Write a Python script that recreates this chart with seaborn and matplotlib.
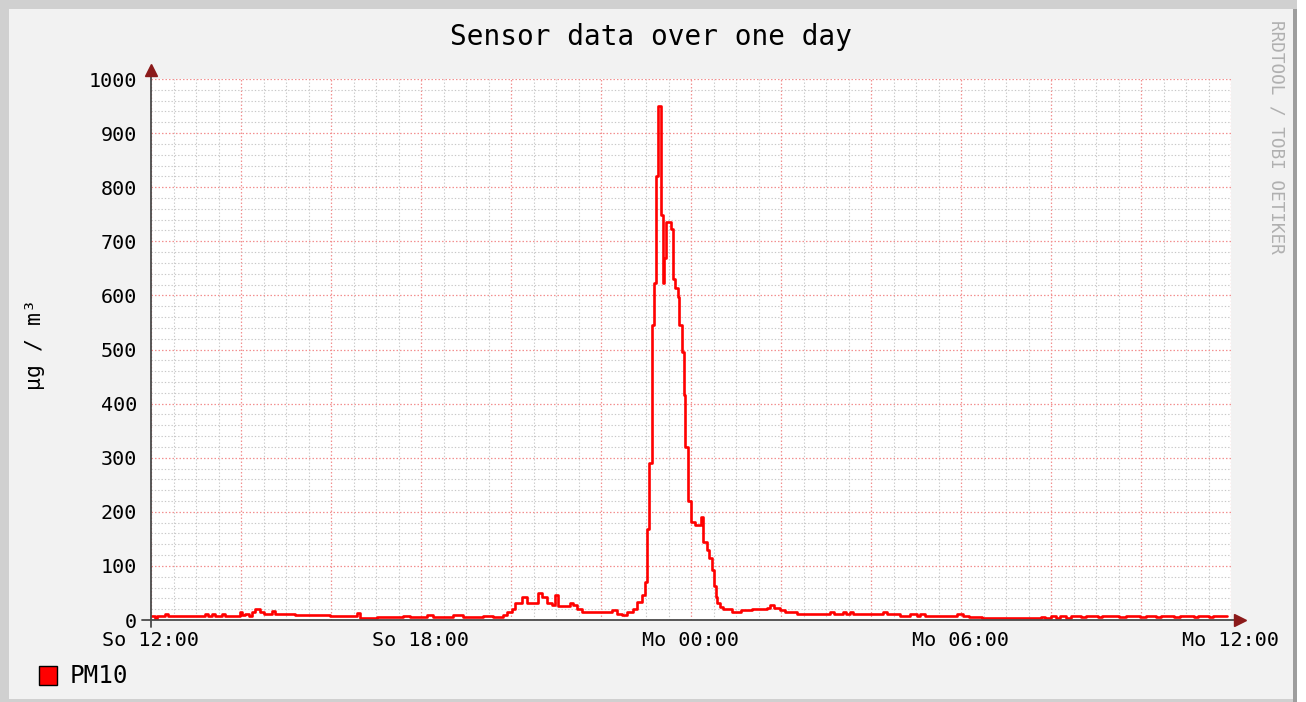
import numpy as np
import pandas as pd
import matplotlib
matplotlib.use("Agg")
import matplotlib.pyplot as plt
import seaborn as sns
from matplotlib.patches import Rectangle

# ---------------- data (step changes, minutes after "So 12:00") ----------------
change_minutes = [
    0, 5, 8, 19, 22, 72, 76, 81, 85, 94, 99,
    119, 121, 125, 130, 134, 139, 145, 150, 161, 165, 192,
    239, 265, 274, 279, 301, 336, 345, 368, 376, 389, 403,
    416, 443, 456, 469, 474, 481, 485, 494, 501, 516, 521,
    528, 534, 539, 543, 559, 563, 568, 574, 581, 592, 614,
    621, 628, 634, 643, 648, 654, 659, 661, 664, 668, 670,
    673, 676, 680, 682, 684, 687, 693, 696, 699, 702, 704,
    708, 710, 712, 716, 720, 725, 733, 736, 741, 744, 748,
    750, 753, 755, 759, 763, 774, 787, 801, 814, 821, 825,
    830, 839, 845, 854, 861, 905, 910, 923, 927, 932, 936,
    976, 981, 999, 1012, 1021, 1025, 1032, 1075, 1083, 1090, 1097,
    1108, 1186, 1192, 1200, 1206, 1212, 1220, 1226, 1240, 1246, 1262,
    1268, 1290, 1300, 1318, 1326, 1340, 1346, 1364, 1372, 1390, 1396,
    1410, 1416, 1435,
]
pm10_values = [
    7, 2, 7, 11, 7, 11, 7, 11, 7, 11, 7,
    14, 9, 12, 8, 14, 20, 15, 12, 16, 12, 9,
    8, 7, 13, 4, 5, 7, 5, 9, 5, 6, 9,
    5, 7, 5, 9, 15, 21, 31, 43, 31, 50, 43,
    31, 28, 46, 25, 31, 28, 21, 15, 14, 15, 18,
    12, 9, 15, 21, 34, 46, 70, 169, 290, 545, 623,
    821, 951, 748, 622, 670, 735, 723, 631, 613, 597, 545,
    495, 415, 320, 220, 182, 175, 190, 145, 129, 114, 92,
    62, 43, 31, 24, 20, 15, 18, 21, 20, 23, 28,
    23, 18, 15, 14, 12, 15, 12, 15, 12, 15, 12,
    15, 12, 7, 11, 7, 11, 7, 12, 8, 5, 6,
    3, 6, 4, 7, 4, 7, 4, 7, 5, 8, 5,
    8, 5, 8, 5, 8, 5, 8, 5, 8, 5, 8,
    5, 8, 8,
]
x_tick_minutes = [0, 360, 720, 1080, 1440]
x_tick_labels = ["So 12:00", "So 18:00", "Mo 00:00", "Mo 06:00", "Mo 12:00"]
y_ticks = list(range(0, 1001, 100))
series_name = "PM10"

df = pd.DataFrame({"minute": change_minutes, "pm10": pm10_values})

# ---------------- figure ----------------
sns.set_theme(style="white")
plt.rcParams["font.family"] = ["DejaVu Sans Mono", "DejaVu Sans"]

W, H = 1306, 702
fig = plt.figure(figsize=(W / 100, H / 100), dpi=100)
fig.patch.set_facecolor("white")


def box(x0, y0, x1, y1):
    return (x0 / W, 1 - y1 / H), (x1 - x0) / W, (y1 - y0) / H


def add_rect(x0, y0, x1, y1, fc, ec="none", lw=0, z=-10):
    xy, w, h = box(x0, y0, x1, y1)
    fig.add_artist(Rectangle(xy, w, h, transform=fig.transFigure,
                             facecolor=fc, edgecolor=ec, lw=lw, zorder=z))


# RRDtool-like frame
add_rect(0, 0, 1297, 702, "#d0d0d0")
add_rect(9, 9, 1293, 699, "#f2f2f2")
add_rect(1293, 9, 1297, 702, "#9e9e9e")

(axx, axy), axw, axh = box(151, 79, 1231, 620)
ax = fig.add_axes([axx, axy, axw, axh])
ax.set_facecolor("white")
ax.set_axisbelow(True)

sns.lineplot(data=df, x="minute", y="pm10", drawstyle="steps-post",
             color="#ff0000", lw=1.9, estimator=None, sort=False,
             ax=ax, zorder=5, legend=False)

ax.set_xlim(0, 1440)
ax.set_ylim(0, 1000)

major_x = np.arange(0, 1441, 120)
minor_x = [m for m in range(0, 1441, 30) if m % 120 != 0]
major_y = y_ticks
minor_y = [v for v in range(0, 1001, 20) if v % 100 != 0]
ax.set_xticks(major_x)
ax.set_xticks(minor_x, minor=True)
ax.set_yticks(major_y)
ax.set_yticks(minor_y, minor=True)

lab = {m: l for m, l in zip(x_tick_minutes, x_tick_labels)}
ax.set_xticklabels([lab.get(int(m), "") for m in major_x])
ax.set_yticklabels([str(v) for v in major_y])

ax.grid(which="minor", color="#c8c8c8", linestyle=(0, (1.2, 1.8)), lw=0.8)
ax.grid(which="major", color="#f39090", linestyle=(0, (1.2, 1.6)), lw=0.9)

ax.tick_params(axis="x", which="major", direction="out", length=3, width=1,
               color="#e06060", labelsize=14.5, pad=5, labelcolor="black")
ax.tick_params(axis="x", which="minor", direction="out", length=3, width=1,
               color="#a0a0a0")
ax.tick_params(axis="y", which="both", length=0, labelsize=14.5, pad=10,
               labelcolor="black")

for s in ax.spines.values():
    s.set_visible(False)

# axis lines with arrows
axis_col = "#4a4a4a"
arrow_col = "#8b1a1a"
ax.plot([-12, 1447], [0, 0], color=axis_col, lw=1.3, clip_on=False, zorder=6)
ax.plot([0, 0], [-13, 1012], color=axis_col, lw=1.3, clip_on=False, zorder=6)
ax.plot([1452], [0], marker=">", ms=8, color=arrow_col, mec=arrow_col,
        clip_on=False, zorder=7)
ax.plot([0], [1016], marker="^", ms=8, color=arrow_col, mec=arrow_col,
        clip_on=False, zorder=7)
ax.set_xlabel("")
ax.set_ylabel("")

# texts
fig.text(651 / W, 1 - 37 / H, "Sensor data over one day", ha="center",
         va="center", fontsize=20, color="black")
fig.text(35 / W, 1 - 345 / H, "µg / m³", rotation=90, ha="center",
         va="center", fontsize=15.5, color="black")
fig.text(1277 / W, 1 - 137 / H, "RRDTOOL / TOBI OETIKER", rotation=270,
         ha="center", va="center", fontsize=12.8, color="#b0b0b0")

# legend
add_rect(39, 666, 57, 685, "#ff0000", ec="black", lw=1.0, z=5)
fig.text(70 / W, 1 - 676 / H, series_name, ha="left", va="center",
         fontsize=17.5, color="black")

fig.savefig("out.png", dpi=100, facecolor=fig.get_facecolor())
